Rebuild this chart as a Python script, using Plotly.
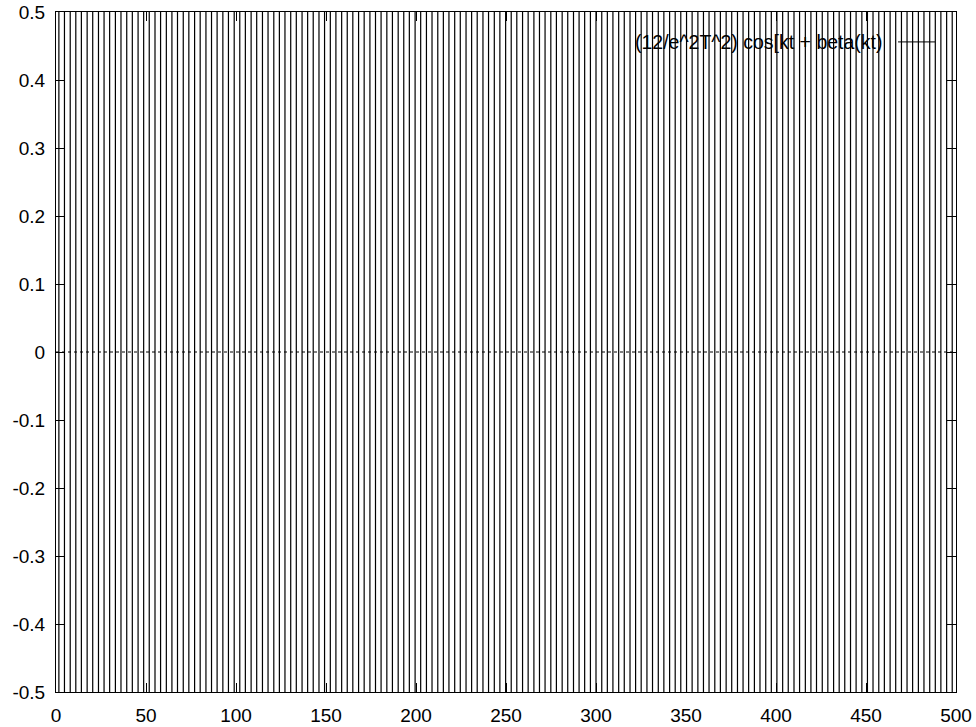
import plotly.graph_objects as go

# x positions (data units) where the curve passes through the visible band,
# alternating rising / falling
crossing_x = [1.6, 4.7, 7.9, 11.0, 14.1, 17.3, 20.4, 23.6, 26.7, 29.8, 33.0, 36.1, 39.3, 42.4,
              45.6, 48.7, 51.8, 55.0, 58.1, 61.3, 64.4, 67.5, 70.7, 73.8, 77.0, 80.1, 83.3, 86.4,
              89.5, 92.7, 95.8, 99.0, 102.1, 105.2, 108.4, 111.5, 114.7, 117.8, 121.0, 124.1,
              127.2, 130.4, 133.5, 136.7, 139.8, 142.9, 146.1, 149.2, 152.4, 155.5, 158.7, 161.8,
              164.9, 168.1, 171.2, 174.4, 177.5, 180.6, 183.8, 186.9, 190.1, 193.2, 196.3, 199.5,
              202.6, 205.8, 208.9, 212.1, 215.2, 218.3, 221.5, 224.6, 227.8, 230.9, 234.0, 237.2,
              240.3, 243.5, 246.6, 249.8, 252.9, 256.0, 259.2, 262.3, 265.5, 268.6, 271.7, 274.9,
              278.0, 281.2, 284.3, 287.5, 290.6, 293.7, 296.9, 300.0, 303.2, 306.3, 309.4, 312.6,
              315.7, 318.9, 322.0, 325.1, 328.3, 331.4, 334.6, 337.7, 340.9, 344.0, 347.1, 350.3,
              353.4, 356.6, 359.7, 362.8, 366.0, 369.1, 372.3, 375.4, 378.6, 381.7, 384.8, 388.0,
              391.1, 394.3, 397.4, 400.5, 403.7, 406.8, 410.0, 413.1, 416.3, 419.4, 422.5, 425.7,
              428.8, 432.0, 435.1, 438.2, 441.4, 444.5, 447.7, 450.8, 453.9, 457.1, 460.2, 463.4,
              466.5, 469.7, 472.8, 475.9, 479.1, 482.2, 485.4, 488.5, 491.6, 494.8, 497.9]
# the curve's swing far exceeds the plotted range; extremes sit well off-scale
peak_value = 5.0
first_direction = -1  # first crossing is a falling one

x_ticks = [0, 50, 100, 150, 200, 250, 300, 350, 400, 450, 500]
y_ticks = [-0.5, -0.4, -0.3, -0.2, -0.1, 0, 0.1, 0.2, 0.3, 0.4, 0.5]
y_tick_labels = ["-0.5", "-0.4", "-0.3", "-0.2", "-0.1", "0", "0.1", "0.2", "0.3", "0.4", "0.5"]
series_name = "(12/e^2T^2) cos[kt + beta(kt)"

# build the polyline through the extremes on either side of each crossing
xs, ys = [], []
d = first_direction
for c in crossing_x:
    xs += [c, c]
    ys += [-d * peak_value, d * peak_value]
    d = -d

FONT = "Liberation Sans, Arial, Helvetica, sans-serif"

fig = go.Figure()
fig.add_trace(go.Scatter(x=xs, y=ys, mode="lines", name=series_name,
                         line=dict(color="black", width=1.2), showlegend=False,
                         hoverinfo="skip"))

axis_common = dict(showline=True, linecolor="black", linewidth=1, mirror="allticks",
                   ticks="inside", ticklen=9, tickwidth=1, tickcolor="black",
                   showgrid=False, zeroline=False, automargin=False,
                   ticklabeloverflow="allow",
                   tickfont=dict(family=FONT, size=19, color="black"))

fig.update_layout(
    width=976, height=727,
    margin=dict(l=56, r=20, t=12, b=35, pad=0),
    paper_bgcolor="white", plot_bgcolor="white",
    xaxis=dict(range=[0, 500], tickmode="array", tickvals=x_ticks,
               ticktext=[str(v) for v in x_ticks], ticklabelstandoff=6, **axis_common),
    yaxis=dict(range=[-0.5, 0.5], tickmode="array", tickvals=y_ticks,
               ticktext=y_tick_labels, ticklabelstandoff=6, **axis_common),
    shapes=[
        # dotted zero axis
        dict(type="line", xref="paper", x0=0, x1=1, yref="y", y0=0, y1=0,
             line=dict(color="black", width=1, dash="dot"), layer="above"),
        # key sample line
        dict(type="line", xref="paper", x0=0.9356, x1=0.9767, yref="paper", y0=0.956, y1=0.956,
             line=dict(color="black", width=1), layer="above"),
    ],
    annotations=[dict(text=series_name, xref="paper", yref="paper", x=0.921, y=0.956,
                      xanchor="right", yanchor="middle", showarrow=False,
                      font=dict(family=FONT, size=19.5, color="black"))],
)

fig.write_html("out.html", config={"displayModeBar": False},
               post_script="document.body.style.margin='0px';document.body.style.overflow='hidden';")
